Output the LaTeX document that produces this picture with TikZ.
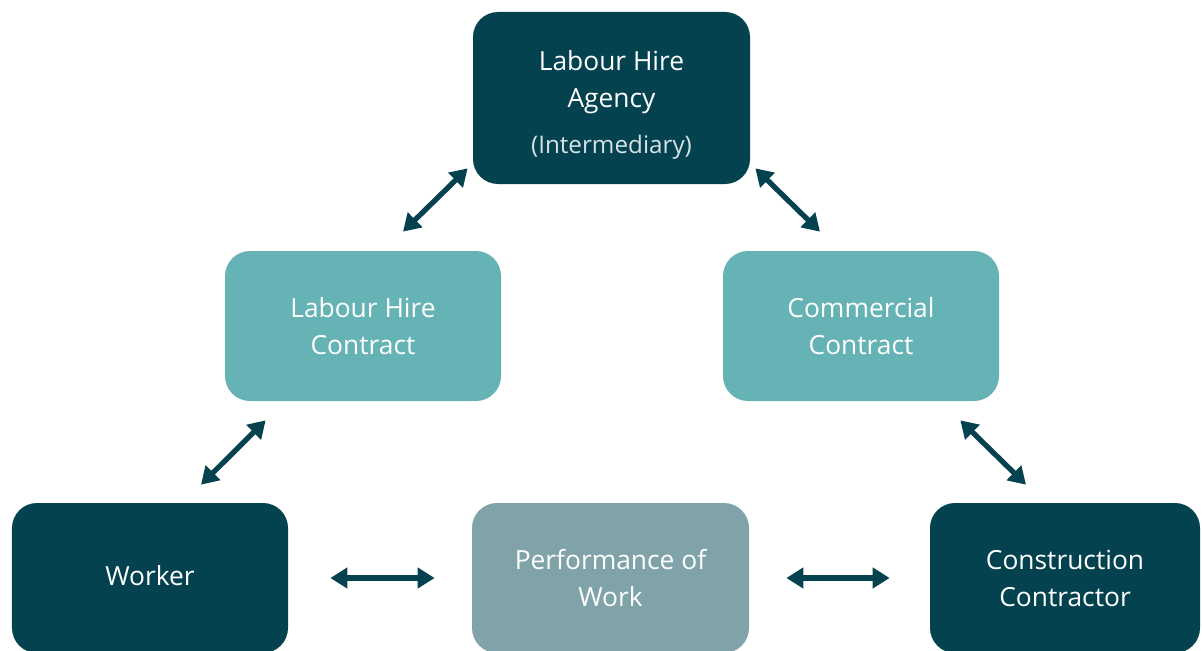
\documentclass[tikz,border=0pt]{standalone}
\usepackage{fontspec}
\setmainfont{Open Sans}
\usetikzlibrary{arrows.meta}
\definecolor{petrol}{RGB}{3,66,78}
\definecolor{teal}{RGB}{102,179,181}
\definecolor{slate}{RGB}{127,163,169}
\definecolor{faint}{RGB}{214,226,229}
\begin{document}
\begin{tikzpicture}[
    box/.style={rounded corners=0.5cm, text=white, align=center,
      minimum width=5.52cm, minimum height=3cm, inner sep=0pt,
      font=\fontsize{15}{21}\selectfont},
    party/.style={box, fill=petrol},
    contract/.style={box, fill=teal},
    link/.style={petrol, line width=3pt,
      {Triangle[length=3.4mm,width=4mm]}-{Triangle[length=3.4mm,width=4mm]}}
  ]
    \clip (0,0) rectangle (24.04,-13.02);
    \fill[white] (0,0) rectangle (24.04,-13.02);
    % parties and contracts
    \node[party, minimum width=5.54cm, minimum height=3.44cm] (agency) at (12.23,-1.96)
      {\rule{0pt}{19pt}Labour Hire\\Agency\\[5pt]{\fontsize{13.8}{21}\selectfont\color{faint}(Intermediary)}};
    \node[contract] (lhc) at (7.26,-6.52) {Labour Hire\\Contract};
    \node[contract] (cc) at (17.22,-6.52) {Commercial\\Contract};
    \node[party] (worker) at (3.0,-11.56) {\raisebox{3pt}{Worker}};
    \node[box, fill=slate, minimum width=5.54cm] (perf) at (12.21,-11.56) {Performance of\\Work};
    \node[party, minimum width=5.4cm] (contractor) at (21.3,-11.56) {Construction\\Contractor};
    % links
    \draw[link] ([shift={(0.8,0.38)}]lhc.north) -- ([shift={(-0.1,0.32)}]agency.south west);
    \draw[link] ([shift={(0.1,0.32)}]agency.south east) -- ([shift={(-0.82,0.38)}]cc.north);
    \draw[link] ([shift={(1.02,0.36)}]worker.north) -- ([shift={(0.82,-0.38)}]lhc.south west);
    \draw[link] ([shift={(-0.78,-0.38)}]cc.south east) -- ([shift={(-0.78,0.36)}]contractor.north);
    \draw[link] ([xshift=0.84cm]worker.east) -- ([xshift=-0.74cm]perf.west);
    \draw[link] ([xshift=0.74cm]perf.east) -- ([xshift=-0.8cm]contractor.west);
\end{tikzpicture}
\end{document}
